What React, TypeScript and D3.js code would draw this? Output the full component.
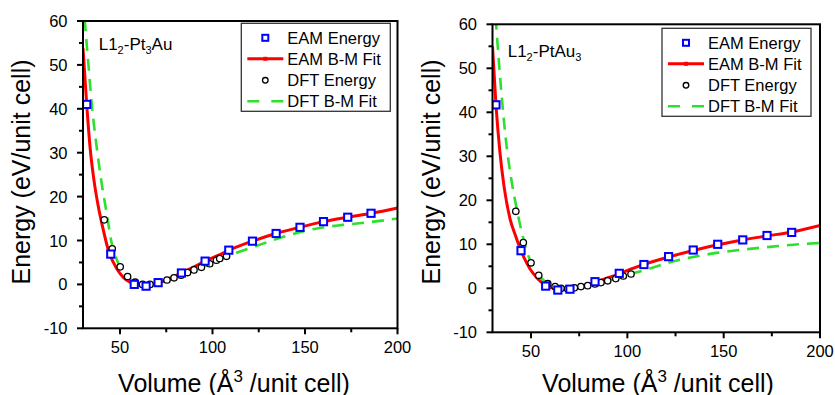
import React from 'react';
import * as d3 from 'd3';

// ---------- shared axis / legend text ----------
const xTickValues = [50, 100, 150, 200];
const xMinorValues = [75, 125, 175];
const yTickValues = [-10, 0, 10, 20, 30, 40, 50, 60];
const yMinorValues = [-5, 5, 15, 25, 35, 45, 55];
const legendLabels = ['EAM Energy', 'EAM B-M Fit', 'DFT Energy', 'DFT B-M Fit'];
const xTitleMain = 'Volume (Å';
const xTitleSup = '3';
const xTitleEnd = ' /unit cell)';
const yTitle = 'Energy (eV/unit cell)';

// ---------- left panel: L1_2-Pt3Au ----------
const ptLabel: [string, boolean][] = [['L1', false], ['2', true], ['-Pt', false], ['3', true], ['Au', false]];
const ptEamVol = [32.0, 45.0, 57.7, 64.1, 70.6, 83.2, 96.0, 108.8, 121.6, 134.4, 147.3, 160.0, 173.1, 185.7];
const ptEamE = [41.0, 6.9, 0.0, -0.4, 0.4, 2.6, 5.3, 7.8, 9.85, 11.6, 13.0, 14.3, 15.3, 16.2];
const ptEamFitVol = [30, 32.0, 33.8, 35.9, 38.3, 40.6, 43.7, 48.2, 51.8, 55.4, 58.1, 63, 70, 77, 83, 90, 96, 103, 109, 121.5, 134.3, 147.2, 160, 173, 186, 200];
const ptEamFitE = [53.8, 41.0, 31.3, 23.8, 17.7, 13.1, 7.8, 3.64, 1.6, 0.5, 0.07, -0.3, 0.3, 1.4, 2.6, 4.0, 5.3, 6.6, 7.8, 9.85, 11.6, 13.0, 14.3, 15.3, 16.2, 17.4];
const ptDftVol = [41.5, 45.8, 50.1, 54.1, 58.2, 62.2, 66.2, 70.3, 75.4, 79.2, 83.0, 86.5, 90.0, 94.0, 98.5, 102.1, 103.9, 107.6];
const ptDftE = [14.7, 8.1, 4.0, 1.8, 0.5, 0.0, 0.0, 0.3, 1.0, 1.5, 2.1, 2.7, 3.3, 3.9, 4.7, 5.5, 5.9, 6.4];
const ptDftFitVol = [30.2, 31.1, 32.9, 34.7, 37.4, 40.1, 42.8, 45.8, 48.5, 51, 54.1, 58.2, 63, 68, 75, 80, 86.5, 94, 100, 106, 113, 124, 136.6, 156.4, 169.2, 183.4, 200];
const ptDftFitE = [65, 59.5, 50.3, 41.2, 31.3, 23.0, 16.2, 8.8, 5.4, 3.3, 1.8, 0.45, 0.0, 0.1, 0.9, 1.6, 2.7, 3.9, 4.9, 6.0, 7.2, 8.8, 10.6, 12.75, 13.5, 14.1, 15.0];

// ---------- right panel: L1_2-PtAu3 ----------
const auLabel: [string, boolean][] = [['L1', false], ['2', true], ['-PtAu', false], ['3', true]];
const auEamVol = [31.8, 44.8, 57.6, 63.9, 70.2, 83.2, 95.8, 108.6, 121.4, 134.2, 146.9, 159.9, 172.5, 185.3];
const auEamE = [41.7, 8.55, 0.5, -0.4, -0.2, 1.5, 3.4, 5.4, 7.2, 8.7, 10.0, 11.0, 12.0, 12.7];
const auEamFitVol = [30, 31.8, 33.9, 36.0, 39.1, 42, 44.8, 47, 49.5, 53, 56.4, 60, 64, 70, 77, 83.2, 90, 95.8, 102, 108.6, 121.4, 134.2, 146.9, 159.9, 172.5, 185.3, 200];
const auEamFitE = [55, 41.7, 30.7, 23.1, 15.8, 11.9, 8.55, 6.4, 4.4, 2.4, 1.0, 0.2, -0.2, -0.15, 0.5, 1.4, 2.4, 3.3, 4.4, 5.4, 7.1, 8.6, 9.9, 11.0, 11.9, 12.8, 14.3];
const auDftVol = [42.1, 46.0, 50.0, 54.0, 58.7, 62.5, 65.6, 69.0, 72.5, 75.9, 79.4, 83.2, 86.3, 89.8, 94.0, 97.9, 101.9];
const auDftE = [17.5, 10.4, 5.8, 2.95, 1.05, 0.4, 0.0, -0.1, 0.1, 0.4, 0.6, 1.0, 1.3, 1.7, 2.2, 2.8, 3.25];
const auDftFitVol = [30.8, 31.8, 32.8, 34.8, 37.0, 39.6, 42.6, 45.5, 48.6, 50, 54, 58.7, 62.5, 66, 69, 72.5, 76, 83, 90, 98, 102, 111.8, 123.1, 135.2, 147.3, 160, 168.8, 184.4, 200];
const auDftFitE = [66, 60.5, 54.5, 43.5, 33.5, 25.2, 18.0, 12.2, 7.4, 5.9, 3.0, 1.1, 0.4, 0.0, -0.1, 0.1, 0.4, 1.0, 1.8, 2.8, 3.3, 4.5, 6.05, 7.2, 8.1, 8.8, 9.2, 9.85, 10.3];

const FONT = '"Liberation Sans", Arial, Helvetica, sans-serif';
const RED = '#ff0000';
const GREEN = '#2ee02e';
const BLUE = '#0000ff';

type PanelProps = {
  id: string;
  left: number; right: number; top: number; bottom: number;
  label: [string, boolean][]; labelX: number; labelY: number;
  legendX: number; legendY: number;
  yTitleX: number; yTitleY: number; xTitleX: number;
  eamVol: number[]; eamE: number[];
  eamFitVol: number[]; eamFitE: number[];
  dftVol: number[]; dftE: number[];
  dftFitVol: number[]; dftFitE: number[];
};

function Panel(p: PanelProps) {
  const x = d3.scaleLinear().domain([30, 200]).range([p.left, p.right]);
  const y = d3.scaleLinear().domain([-10, 60]).range([p.bottom, p.top]);
  const line = d3.line<[number, number]>().x(d => x(d[0])).y(d => y(d[1])).curve(d3.curveMonotoneX);
  const eamFit = line(p.eamFitVol.map((v, i) => [v, p.eamFitE[i]] as [number, number])) || '';
  const dftFit = line(p.dftFitVol.map((v, i) => [v, p.dftFitE[i]] as [number, number])) || '';
  const clipId = 'clip-' + p.id;
  const lgRows = [14.5, 35.5, 57, 78];
  const symX = p.legendX + 24;
  return (
    <g>
      <defs>
        <clipPath id={clipId}>
          <rect x={p.left} y={p.top} width={p.right - p.left} height={p.bottom - p.top} />
        </clipPath>
      </defs>
      <g clipPath={`url(#${clipId})`}>
        <path d={dftFit} fill="none" stroke={GREEN} strokeWidth={2.6} strokeDasharray="12,8" />
        <path d={eamFit} fill="none" stroke={RED} strokeWidth={3} />
        {p.dftVol.map((v, i) => (
          <circle key={'c' + i} cx={x(v)} cy={y(p.dftE[i])} r={3.2} fill="#fff" stroke="#000" strokeWidth={1.3} />
        ))}
        {p.eamVol.map((v, i) => (
          <rect key={'s' + i} x={x(v) - 3.6} y={y(p.eamE[i]) - 3.6} width={7.2} height={7.2} fill="#fff" stroke={BLUE} strokeWidth={2} />
        ))}
      </g>
      {/* frame */}
      <rect x={p.left} y={p.top} width={p.right - p.left} height={p.bottom - p.top} fill="none" stroke="#000" strokeWidth={2} />
      {/* x ticks */}
      {xTickValues.map(t => (
        <g key={'xt' + t}>
          <line x1={x(t)} x2={x(t)} y1={p.bottom} y2={p.bottom + 6} stroke="#000" strokeWidth={2} />
          <text x={x(t)} y={p.bottom + 25} textAnchor="middle" fontSize={16.5} fontFamily={FONT}>{t}</text>
        </g>
      ))}
      {xMinorValues.map(t => (
        <line key={'xm' + t} x1={x(t)} x2={x(t)} y1={p.bottom} y2={p.bottom + 4} stroke="#000" strokeWidth={2} />
      ))}
      {/* y ticks */}
      {yTickValues.map(t => (
        <g key={'yt' + t}>
          <line x1={p.left - 6} x2={p.left} y1={y(t)} y2={y(t)} stroke="#000" strokeWidth={2} />
          <text x={p.left - 15.5} y={y(t) + 6} textAnchor="end" fontSize={16.5} fontFamily={FONT}>{t}</text>
        </g>
      ))}
      {yMinorValues.map(t => (
        <line key={'ym' + t} x1={p.left - 4} x2={p.left} y1={y(t)} y2={y(t)} stroke="#000" strokeWidth={2} />
      ))}
      {/* axis titles */}
      <text transform={`translate(${p.yTitleX},${p.yTitleY}) rotate(-90)`} textAnchor="middle" fontSize={25} fontFamily={FONT}>{yTitle}</text>
      <text x={p.xTitleX} y={391.5} textAnchor="middle" fontSize={25} fontFamily={FONT}>
        {xTitleMain}
        <tspan dy={-10} fontSize={17}>{xTitleSup}</tspan>
        <tspan dy={10}>{xTitleEnd}</tspan>
      </text>
      {/* annotation */}
      <text x={p.labelX} y={p.labelY} fontSize={17} fontFamily={FONT}>
        {p.label.map(([s, sub], i) => {
          const prevSub = i > 0 && p.label[i - 1][1];
          const dy = sub ? 4 : prevSub ? -4 : 0;
          return <tspan key={i} dy={dy} fontSize={sub ? 11 : 17}>{s}</tspan>;
        })}
      </text>
      {/* legend */}
      <rect x={p.legendX} y={p.legendY} width={149} height={88} fill="#fff" stroke="#333" strokeWidth={1.3} />
      <rect x={symX - 3} y={p.legendY + lgRows[0] - 3} width={6} height={6} fill="#fff" stroke={BLUE} strokeWidth={2} />
      <line x1={p.legendX + 6} x2={p.legendX + 42} y1={p.legendY + lgRows[1]} y2={p.legendY + lgRows[1]} stroke={RED} strokeWidth={3} />
      <rect x={symX - 2} y={p.legendY + lgRows[1] - 2} width={4} height={4} fill={RED} />
      <circle cx={symX} cy={p.legendY + lgRows[2]} r={2.8} fill="#fff" stroke="#000" strokeWidth={1.3} />
      <line x1={p.legendX + 6} x2={p.legendX + 42} y1={p.legendY + lgRows[3]} y2={p.legendY + lgRows[3]} stroke={GREEN} strokeWidth={2.6} strokeDasharray="12,12" />
      {legendLabels.map((s, i) => (
        <text key={'lg' + i} x={p.legendX + 46} y={p.legendY + lgRows[i] + 6} fontSize={16.5} fontFamily={FONT}>{s}</text>
      ))}
    </g>
  );
}

export default function App() {
  return (
    <svg width={835} height={395} style={{ position: 'absolute', left: 0, top: 0, background: '#fff' }}>
      <rect x={0} y={0} width={835} height={395} fill="#fff" />
      <Panel
        id="pt3au" left={83} right={397.5} top={21} bottom={328.3}
        label={ptLabel} labelX={98.7} labelY={50}
        legendX={241.3} legendY={23.3}
        yTitleX={30} yTitleY={172} xTitleX={234}
        eamVol={ptEamVol} eamE={ptEamE}
        eamFitVol={ptEamFitVol} eamFitE={ptEamFitE}
        dftVol={ptDftVol} dftE={ptDftE}
        dftFitVol={ptDftFitVol} dftFitE={ptDftFitE}
      />
      <Panel
        id="ptau3" left={492.5} right={820} top={24.3} bottom={332.3}
        label={auLabel} labelX={507.7} labelY={57}
        legendX={662} legendY={28.3}
        yTitleX={440} yTitleY={172} xTitleX={658}
        eamVol={auEamVol} eamE={auEamE}
        eamFitVol={auEamFitVol} eamFitE={auEamFitE}
        dftVol={auDftVol} dftE={auDftE}
        dftFitVol={auDftFitVol} dftFitE={auDftFitE}
      />
    </svg>
  );
}
